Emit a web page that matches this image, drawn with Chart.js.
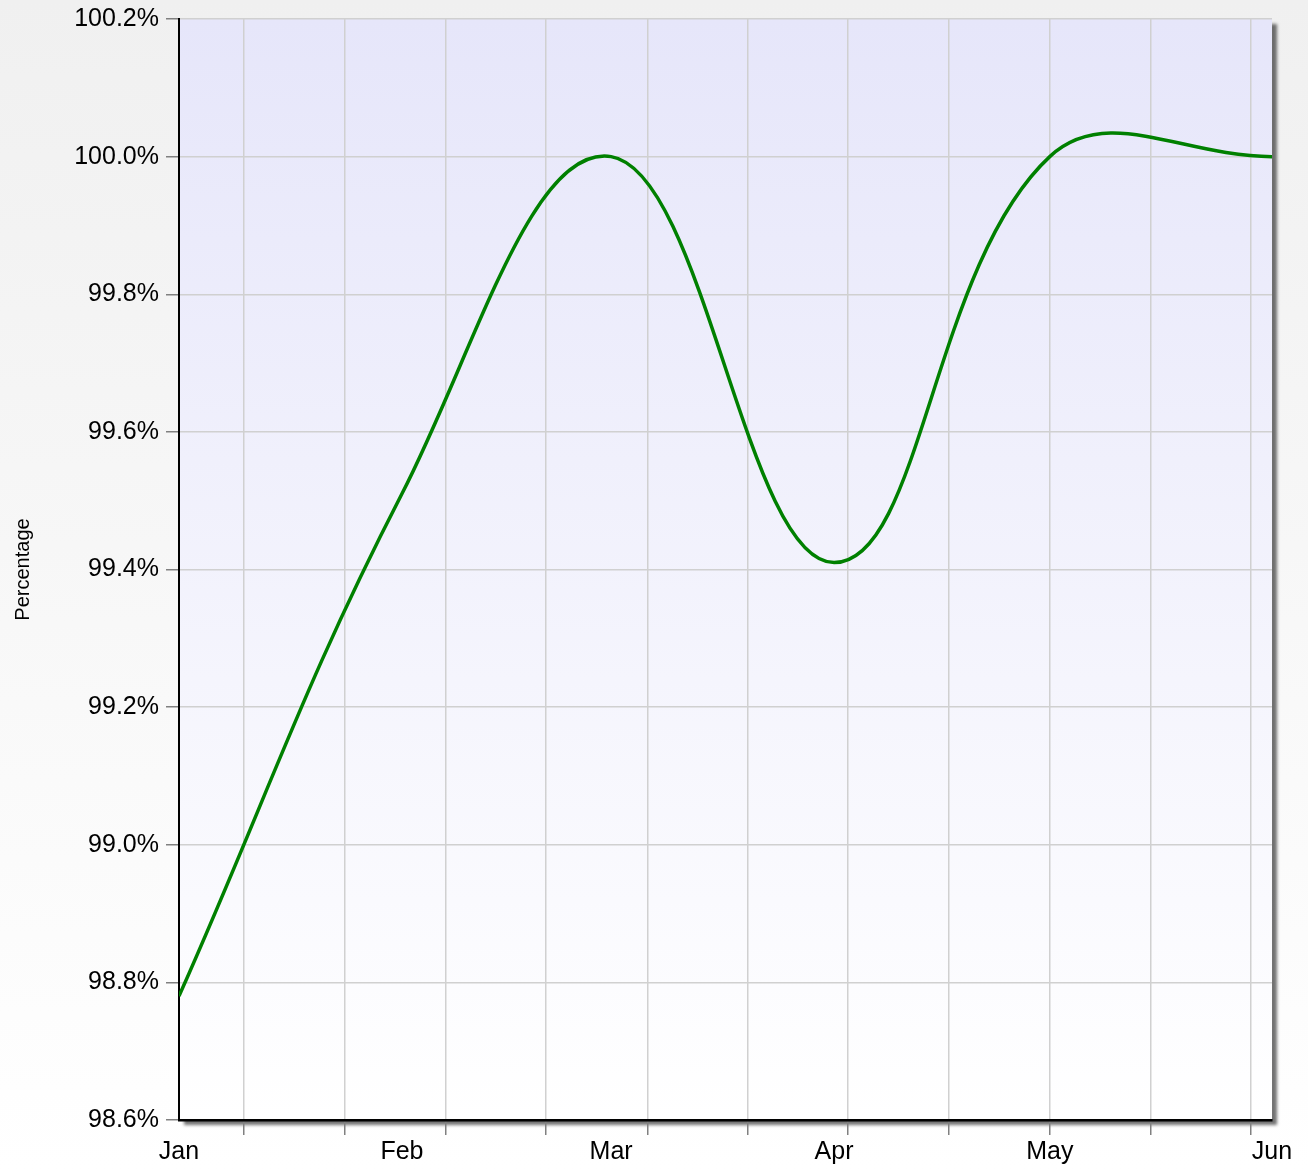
<!DOCTYPE html>
<html>
<head>
<meta charset="utf-8">
<script src="https://cdn.jsdelivr.net/npm/chart.js@4/dist/chart.umd.min.js"></script>
<style>
  html, body { margin: 0; padding: 0; }
  body { background: linear-gradient(#f0f0f0, #ffffff); width: 1308px; height: 1170px; }
  #wrap { width: 1308px; height: 1170px; position: relative; }
</style>
</head>
<body>
<div id="wrap"><canvas id="lineChart"></canvas></div>
<script>
// x in days from Jan 1, as placed on the picture
const months = ['Jan', 'Feb', 'Mar', 'Apr', 'May', 'Jun'];
const monthDays = [0, 30.8, 59.7, 90.5, 120.3, 151];
const values = [98.78, 99.51, 100.0, 99.41, 100.0, 100.0];
const yTicks = [98.6, 98.8, 99.0, 99.2, 99.4, 99.6, 99.8, 100.0, 100.2];
const gridDays = [9, 22.9, 36.9, 50.7, 64.7, 78.6, 92.4, 106.4, 120.3, 134.2, 148.1];

const isGrid = (v) => gridDays.includes(v);

// plot area: lavender to white, with a drop shadow
const plotBg = {
    id: 'plotBg',
    beforeDraw(chart) {
        const { ctx, chartArea: a } = chart;
        ctx.save();
        ctx.shadowColor = 'rgba(0,0,0,0.55)';
        ctx.shadowBlur = 3;
        ctx.shadowOffsetX = 5;
        ctx.shadowOffsetY = 5;
        const g = ctx.createLinearGradient(0, a.top, 0, a.bottom);
        g.addColorStop(0, '#e6e6fa');
        g.addColorStop(1, '#ffffff');
        ctx.fillStyle = g;
        ctx.fillRect(a.left, a.top, a.right - a.left, a.bottom - a.top);
        ctx.restore();
    }
};

const font = { family: "'Liberation Sans', Arial, sans-serif", size: 25 };

let chartElement = document.getElementById('lineChart');

let lineChart = new Chart(chartElement, {
    type: 'line',
    data: {
        datasets: [{
            label: 'Percentage',
            data: monthDays.map((d, i) => ({ x: d, y: values[i] })),
            borderColor: '#008000',
            borderWidth: 3.5,
            pointRadius: 0,
            tension: 0.4,
            fill: false
        }]
    },
    options: {
        responsive: true,
        maintainAspectRatio: false,
        animation: false,
        layout: { padding: { left: 0, top: 19, right: 36, bottom: 0 } },
        plugins: {
            legend: { display: false },
            tooltip: { enabled: false }
        },
        scales: {
            x: {
                type: 'linear',
                min: 0,
                max: 151,
                afterBuildTicks: (axis) => {
                    const vals = [...new Set(gridDays.concat(monthDays))].sort((a, b) => a - b);
                    axis.ticks = vals.map(v => ({ value: v }));
                },
                afterFit: (scale) => {
                    scale.height = 50;
                    scale.paddingLeft = 0;
                    scale.paddingRight = 0;
                },
                grid: {
                    color: (c) => (c.tick && isGrid(c.tick.value)) ? '#d0d0d0' : 'rgba(0,0,0,0)',
                    tickColor: (c) => (c.tick && isGrid(c.tick.value)) ? '#808080' : 'rgba(0,0,0,0)',
                    lineWidth: 1.5,
                    tickLength: 15
                },
                border: { color: '#000', width: 2.5 },
                ticks: {
                    autoSkip: false,
                    maxRotation: 0,
                    padding: 2,
                    color: '#000',
                    font: font,
                    callback: (v) => {
                        const i = monthDays.indexOf(v);
                        return i >= 0 ? months[i] : '';
                    }
                }
            },
            y: {
                min: 98.6,
                max: 100.2,
                afterBuildTicks: (axis) => {
                    axis.ticks = yTicks.map(v => ({ value: v }));
                },
                afterFit: (scale) => {
                    scale.width = 179;
                    scale.paddingTop = 0;
                    scale.paddingBottom = 0;
                },
                grid: {
                    color: '#d0d0d0',
                    tickColor: '#808080',
                    lineWidth: 1.5,
                    tickLength: 13
                },
                border: { color: '#000', width: 2 },
                ticks: {
                    padding: 7,
                    color: '#000',
                    font: font,
                    callback: (v) => v.toFixed(1) + '%'
                },
                title: {
                    display: true,
                    text: 'Percentage',
                    color: '#000',
                    font: { family: "'Liberation Sans', Arial, sans-serif", size: 20 },
                    padding: { top: 11, bottom: 4 }
                }
            }
        }
    },
    plugins: [plotBg]
});
</script>
</body>
</html>
